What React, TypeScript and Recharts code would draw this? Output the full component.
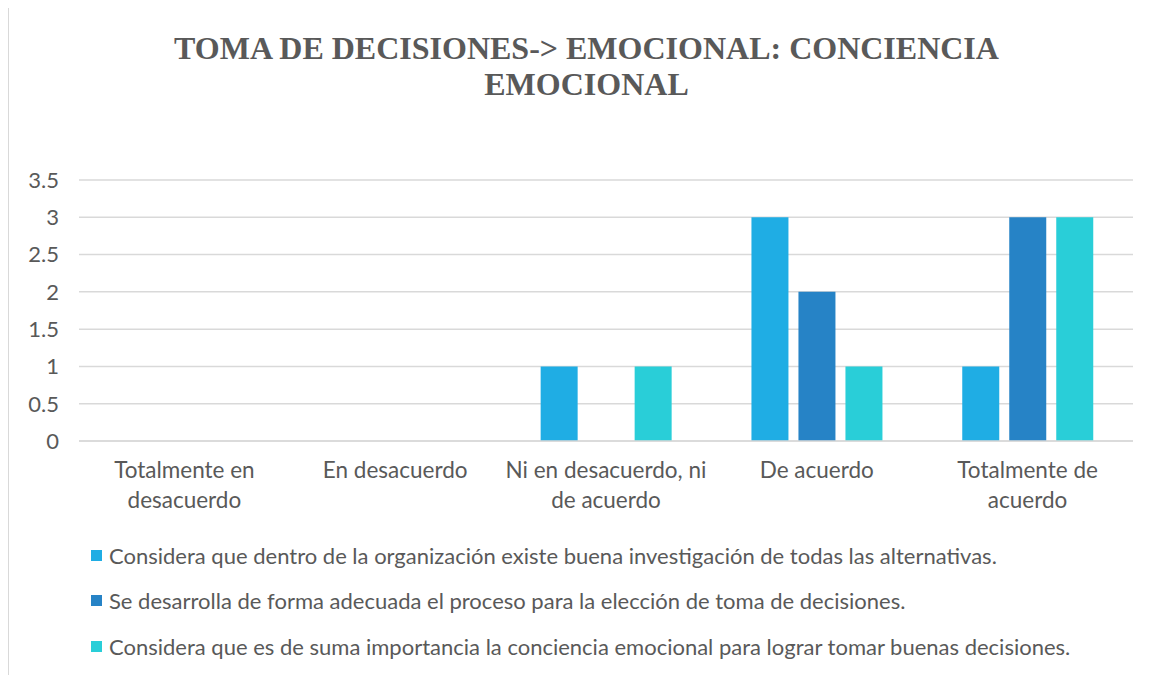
import React from "react";
import { BarChart, Bar, XAxis, YAxis, CartesianGrid } from "recharts";

const categories = [
  "Totalmente en\ndesacuerdo",
  "En desacuerdo",
  "Ni en desacuerdo, ni\nde acuerdo",
  "De acuerdo",
  "Totalmente de\nacuerdo",
];
const investigacion = [0, 0, 1, 3, 1];
const proceso = [0, 0, 0, 2, 3];
const conciencia = [0, 0, 1, 1, 3];
const yTicks = [0, 0.5, 1, 1.5, 2, 2.5, 3, 3.5];

const seriesNames = [
  "Considera que dentro de la organización existe buena investigación de todas las alternativas.",
  "Se desarrolla de forma adecuada el proceso para la elección de toma de decisiones.",
  "Considera que es de suma importancia la conciencia emocional para lograr tomar buenas decisiones.",
];
const colors = ["#1FADE4", "#2683C6", "#29CED8"];

const FONT = "Lato, 'Open Sans', sans-serif";
const TEXT = "#595959";

const data = categories.map((c, i) => ({
  name: c,
  a: investigacion[i],
  b: proceso[i],
  c: conciencia[i],
}));

function CategoryTick(props: any) {
  const { x, y, payload } = props;
  const lines = String(payload.value).split("\n");
  return (
    <text x={x} y={y} textAnchor="middle" fill={TEXT} fontSize={22.5} fontFamily={FONT}>
      {lines.map((l, i) => (
        <tspan key={i} x={x} y={y + 29 + i * 30}>
          {l}
        </tspan>
      ))}
    </text>
  );
}

export default function App() {
  return (
    <div
      style={{
        position: "relative",
        width: 1138,
        height: 680,
        marginTop: -1,
        border: "1px solid #d9d9d9",
        background: "#fff",
        overflow: "hidden",
      }}
    >
      <div
        style={{
          position: "absolute",
          left: 0,
          width: 1155,
          top: 22,
          textAlign: "center",
          fontFamily: "'Liberation Serif', 'Times New Roman', Times, serif",
          fontWeight: "bold",
          fontSize: 32,
          lineHeight: "36px",
          color: TEXT,
        }}
      >
        <div>TOMA DE DECISIONES-&gt; EMOCIONAL: CONCIENCIA</div>
        <div>EMOCIONAL</div>
      </div>

      <div style={{ position: "absolute", left: 0, top: 0 }}>
        <BarChart
          width={1140}
          height={520}
          data={data}
          margin={{ top: 172, right: 16, bottom: 0, left: 10 }}
          barCategoryGap="19%"
          barGap={10}
        >
          <CartesianGrid vertical={false} stroke="#d9d9d9" strokeWidth={1.5} />
          <XAxis
            dataKey="name"
            axisLine={{ stroke: "#d9d9d9", strokeWidth: 1.5 }}
            tickLine={false}
            height={87}
            interval={0}
            tick={<CategoryTick />}
          />
          <YAxis
            domain={[0, 3.5]}
            ticks={yTicks}
            axisLine={false}
            tickLine={false}
            width={60}
            tickMargin={14}
            tick={{ fill: TEXT, fontSize: 22, fontFamily: FONT }}
          />
          <Bar dataKey="a" fill={colors[0]} isAnimationActive={false} />
          <Bar dataKey="b" fill={colors[1]} isAnimationActive={false} />
          <Bar dataKey="c" fill={colors[2]} isAnimationActive={false} />
        </BarChart>
      </div>

      {seriesNames.map((n, i) => (
        <div
          key={n}
          style={{
            position: "absolute",
            left: 82,
            top: 533 + i * 45.5,
            height: 28,
            display: "flex",
            alignItems: "center",
            fontFamily: FONT,
            fontSize: 22,
            color: TEXT,
            whiteSpace: "nowrap",
          }}
        >
          <span
            style={{
              display: "inline-block",
              width: 11,
              height: 11,
              background: colors[i],
              marginRight: 7,
            }}
          />
          {n}
        </div>
      ))}
    </div>
  );
}
